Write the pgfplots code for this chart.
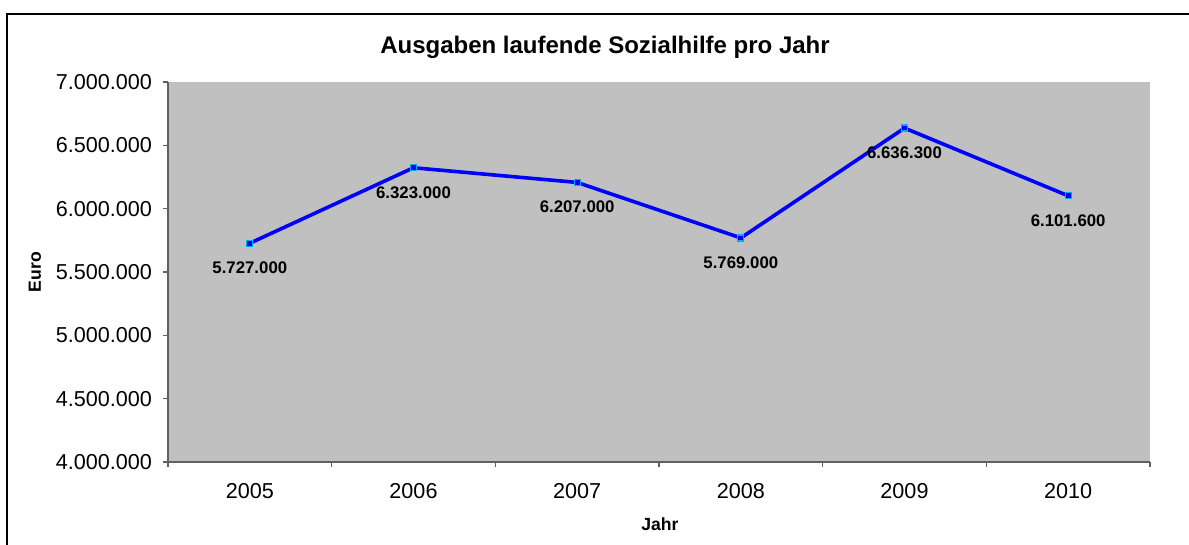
\documentclass[border=0pt]{standalone}
\usepackage{pgfplots}
\pgfplotsset{compat=1.18}
\usepackage{fontspec}
\setmainfont{Liberation Sans}
\definecolor{plotgray}{RGB}{192,192,192}
\definecolor{axgray}{RGB}{96,96,96}
\pgfplotstableread{
x y
0 5727000
1 6323000
2 6207000
3 5769000
4 6636300
5 6101600
}\datatable
\begin{document}
\begin{tikzpicture}[x=1pt,y=1pt]
\useasboundingbox (0,0) rectangle (594.5,272.5);
\draw[line width=0.6pt] (3.5,0) -- (3.5,265.5) -- (594.5,265.5);
\begin{axis}[
  at={(84pt,41.5pt)}, anchor=south west,
  scale only axis, width=491pt, height=190pt,
  xmin=-0.5, xmax=5.5, ymin=4000000, ymax=7000000,
  axis background/.style={fill=plotgray},
  axis x line*=bottom, axis y line*=left,
  axis line style={-, draw=axgray, line width=0.6pt},
  tick style={draw=axgray, line width=0.6pt},
  tick align=outside, major tick length=2.5pt,
  xtick={-0.5,0.5,1.5,2.5,3.5,4.5,5.5}, xticklabels={},
  extra x ticks={0,1,2,3,4,5},
  extra x tick labels={2005,2006,2007,2008,2009,2010},
  extra x tick style={major tick length=0pt, tick label style={yshift=-7pt}},
  ytick={4000000,4500000,5000000,5500000,6000000,6500000,7000000},
  scaled ticks=false,
  /pgf/number format/.cd, fixed, precision=0, 1000 sep={.}, assume math mode=true, /pgfplots/.cd,
  yticklabel style={xshift=-2pt},
  tick label style={font=\fontsize{10.8}{13}\selectfont, text=black},
  clip=false,
  nodes near coords={\pgfmathprintnumber[fixed,precision=0,1000 sep={.},assume math mode=true]{\pgfplotspointmeta}},
  nodes near coords style={anchor=north, inner sep=0pt, yshift=-9pt, font=\fontsize{8.4}{10}\selectfont\bfseries, text=black},
  point meta=explicit,
]
\addplot[color=blue, line width=1.8pt, mark=square*, mark size=1.5pt,
  mark options={draw=cyan, fill=blue, line width=0.6pt}]
  table[x=x, y=y, meta=y] {\datatable};
\end{axis}
\node[font=\fontsize{12}{14}\selectfont\bfseries] at (302.5,249) {Ausgaben laufende Sozialhilfe pro Jahr};
\node[font=\fontsize{8.8}{10}\selectfont\bfseries, rotate=90] at (17.5,136.5) {Euro};
\node[font=\fontsize{8.8}{10}\selectfont\bfseries] at (330,10.5) {Jahr};
\end{tikzpicture}
\end{document}
